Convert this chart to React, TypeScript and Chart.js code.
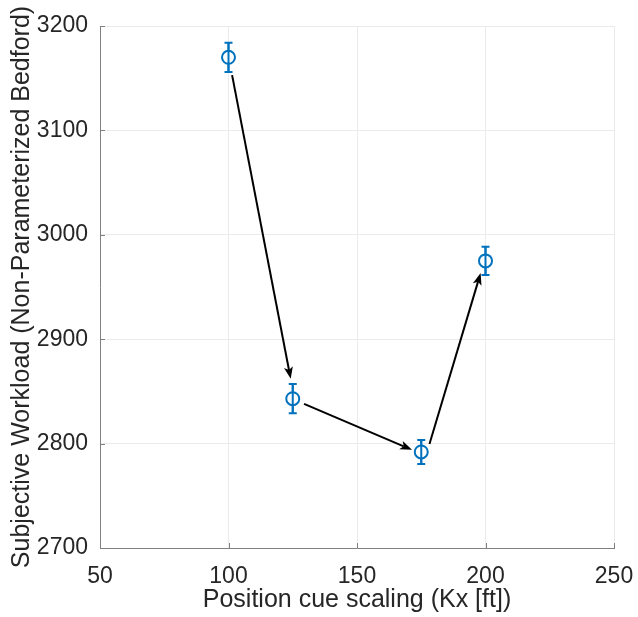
import React, { useEffect, useRef } from "react";
import { Chart, registerables } from "chart.js";

Chart.register(...registerables);

const cueScaling = [100, 125, 175, 200];
const workload = [3170, 2843, 2792, 2975];
const workloadErr = [14, 14, 11.5, 13.5];
const xTicks = [50, 100, 150, 200, 250];
const yTicks = [2700, 2800, 2900, 3000, 3100, 3200];
// arrows in data units
const arrowStartX = [101.4, 129.4, 178.2];
const arrowStartY = [3153, 2838, 2799.6];
const arrowEndX = [124.2, 171.4, 198.1];
const arrowEndY = [2862, 2794, 2963.4];

const BLUE = "#0072BD";
const TEXT = "#262626";
const AXIS = "#808080";
const FONT = "'Liberation Sans', Arial, Helvetica, sans-serif";

const overlay = {
  id: "overlay",
  afterDatasetsDraw(chart: any) {
    const { ctx, scales, chartArea } = chart;
    const xs = scales.x;
    const ys = scales.y;
    ctx.save();
    ctx.strokeStyle = AXIS;
    ctx.lineWidth = 1;
    const tl = 5;
    xTicks.forEach((v) => {
      const px = Math.round(xs.getPixelForValue(v)) + 0.5;
      ctx.beginPath();
      ctx.moveTo(px, chartArea.bottom);
      ctx.lineTo(px, chartArea.bottom - tl);
      ctx.stroke();
    });
    yTicks.forEach((v) => {
      const py = Math.round(ys.getPixelForValue(v)) + 0.5;
      ctx.beginPath();
      ctx.moveTo(chartArea.left, py);
      ctx.lineTo(chartArea.left + tl, py);
      ctx.stroke();
    });
    ctx.strokeStyle = BLUE;
    ctx.lineWidth = 2;
    cueScaling.forEach((x, i) => {
      const px = xs.getPixelForValue(x);
      const pt = ys.getPixelForValue(workload[i] + workloadErr[i]);
      const pb = ys.getPixelForValue(workload[i] - workloadErr[i]);
      ctx.beginPath();
      ctx.moveTo(px, pt);
      ctx.lineTo(px, pb);
      ctx.moveTo(px - 4, pt);
      ctx.lineTo(px + 4, pt);
      ctx.moveTo(px - 4, pb);
      ctx.lineTo(px + 4, pb);
      ctx.stroke();
    });
    cueScaling.forEach((x, i) => {
      const px = xs.getPixelForValue(x);
      const py = ys.getPixelForValue(workload[i]);
      ctx.beginPath();
      ctx.arc(px, py, 6.5, 0, Math.PI * 2);
      ctx.fillStyle = "#ffffff";
      ctx.fill();
      ctx.stroke();
    });
    ctx.beginPath();
    cueScaling.forEach((x, i) => {
      const px = xs.getPixelForValue(x);
      const pt = ys.getPixelForValue(workload[i] + workloadErr[i]);
      const pb = ys.getPixelForValue(workload[i] - workloadErr[i]);
      ctx.moveTo(px, pt);
      ctx.lineTo(px, pb);
    });
    ctx.stroke();
    ctx.strokeStyle = "#000000";
    ctx.fillStyle = "#000000";
    ctx.lineWidth = 2;
    arrowStartX.forEach((_, i) => {
      const x0 = xs.getPixelForValue(arrowStartX[i]);
      const y0 = ys.getPixelForValue(arrowStartY[i]);
      const x1 = xs.getPixelForValue(arrowEndX[i]);
      const y1 = ys.getPixelForValue(arrowEndY[i]);
      const ang = Math.atan2(y1 - y0, x1 - x0);
      const hl = 12;
      const hw = 4.5;
      const bx = x1 - hl * Math.cos(ang);
      const by = y1 - hl * Math.sin(ang);
      ctx.beginPath();
      ctx.moveTo(x0, y0);
      ctx.lineTo(bx + 3 * Math.cos(ang), by + 3 * Math.sin(ang));
      ctx.stroke();
      ctx.beginPath();
      ctx.moveTo(x1, y1);
      ctx.lineTo(bx + hw * Math.sin(ang), by - hw * Math.cos(ang));
      ctx.lineTo(bx + 3 * Math.cos(ang), by + 3 * Math.sin(ang));
      ctx.lineTo(bx - hw * Math.sin(ang), by + hw * Math.cos(ang));
      ctx.closePath();
      ctx.fill();
    });
    ctx.restore();
  },
};

export default function App() {
  const ref = useRef<HTMLCanvasElement | null>(null);
  useEffect(() => {
    document.body.style.margin = "0";
    const canvas = ref.current;
    if (!canvas) return;
    const chart = new Chart(canvas, {
      type: "scatter",
      data: {
        datasets: [
          {
            data: cueScaling.map((x, i) => ({ x, y: workload[i] })),
            pointRadius: 0,
            showLine: false,
          },
        ],
      },
      options: {
        animation: false,
        responsive: false,
        devicePixelRatio: 1,
        layout: { padding: { top: 26, right: 24, left: 0, bottom: 0 } },
        plugins: { legend: { display: false }, tooltip: { enabled: false } },
        scales: {
          x: {
            type: "linear",
            min: 50,
            max: 250,
            afterBuildTicks: (s: any) => {
              s.ticks = xTicks.map((v) => ({ value: v }));
            },
            afterFit: (s: any) => {
              s.height = 69;
              s.paddingLeft = 0;
              s.paddingRight = 0;
            },
            grid: { color: "#ebebeb", drawTicks: false, lineWidth: 1 },
            border: { display: true, color: AXIS, width: 1 },
            ticks: {
              color: TEXT,
              font: { family: FONT, size: 23 },
              padding: 15,
              maxRotation: 0,
              callback: (v: any) => String(v),
            },
            title: {
              display: true,
              text: "Position cue scaling (Kx [ft])",
              color: TEXT,
              font: { family: FONT, size: 25 },
              padding: { top: 0, bottom: 2 },
            },
          },
          y: {
            type: "linear",
            min: 2700,
            max: 3200,
            afterBuildTicks: (s: any) => {
              s.ticks = yTicks.map((v) => ({ value: v }));
            },
            afterFit: (s: any) => {
              s.width = 100;
              s.paddingTop = 0;
              s.paddingBottom = 0;
            },
            grid: { color: "#ebebeb", drawTicks: false, lineWidth: 1 },
            border: { display: true, color: AXIS, width: 1 },
            ticks: {
              color: TEXT,
              font: { family: FONT, size: 23 },
              padding: 12,
              callback: (v: any) => String(v),
            },
            title: {
              display: true,
              text: "Subjective Workload (Non-Parameterized Bedford)",
              color: TEXT,
              font: { family: FONT, size: 25 },
              padding: { top: 7, bottom: 0 },
            },
          },
        },
      },
      plugins: [overlay],
    });
    return () => chart.destroy();
  }, []);
  return (
    <div style={{ width: 638, height: 617 }}>
      <canvas ref={ref} width={638} height={617} style={{ display: "block" }} />
    </div>
  );
}
